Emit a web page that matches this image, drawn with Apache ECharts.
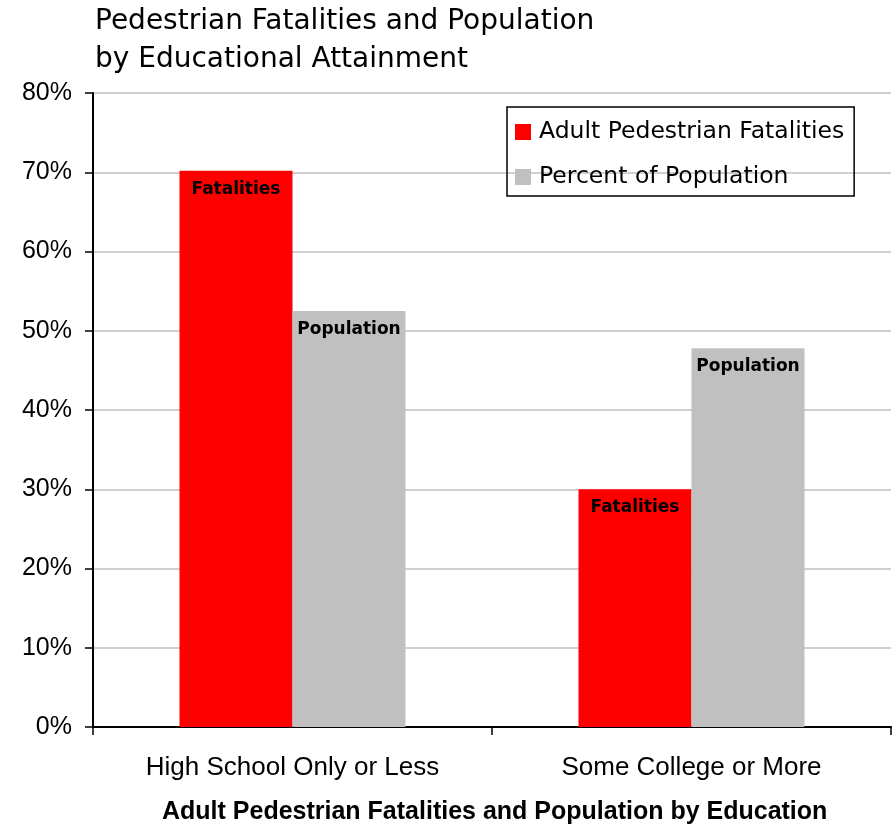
<!DOCTYPE html>
<html><head><meta charset="utf-8">
<script src="https://cdn.jsdelivr.net/npm/echarts@6/dist/echarts.min.js"></script>
<style>html,body{margin:0;padding:0;background:#fff}#c{width:894px;height:829px}</style>
</head><body><div id="c"></div>
<script>
const categories = ['High School Only or Less', 'Some College or More'];
const fatalities = [70.2, 30.0];
const population = [52.5, 47.8];
const seriesNames = ['Adult Pedestrian Fatalities', 'Percent of Population'];
const barLabels = ['Fatalities', 'Population'];
const yTicks = [0, 10, 20, 30, 40, 50, 60, 70, 80];

const chart = echarts.init(document.getElementById('c'));
const titleFont = 'DejaVu Sans';
const axisFont = 'Liberation Sans, Arial';
chart.setOption({
  animation: false,
  backgroundColor: '#fff',
  title: [{
    text: 'Pedestrian Fatalities and Population\nby Educational Attainment',
    left: 90, top: -2,
    textStyle: {fontFamily: titleFont, fontWeight: 'normal', fontSize: 28, lineHeight: 38, color: '#000'}
  }, {
    text: 'Adult Pedestrian Fatalities and Population by Education',
    left: 157, top: 795,
    textStyle: {fontFamily: axisFont, fontWeight: 'bold', fontSize: 25, color: '#000'}
  }],
  legend: {
    orient: 'vertical', left: 507, top: 107,
    padding: [13, 10, 7, 8],
    borderColor: '#000', borderWidth: 1.5,
    itemWidth: 16, itemHeight: 16, itemGap: 21,
    icon: 'rect',
    textStyle: {fontFamily: titleFont, fontSize: 23.5, color: '#000', padding: [0, 0, 0, 3]},
    data: seriesNames
  },
  grid: {left: 93, top: 93, right: 3, bottom: 102, containLabel: false},
  xAxis: {
    type: 'category', data: categories,
    axisLine: {lineStyle: {color: '#000', width: 2}},
    axisTick: {show: true, length: 8, lineStyle: {color: '#000', width: 1.5}},
    axisLabel: {fontFamily: axisFont, fontSize: 26, color: '#000', margin: 28},
    splitLine: {show: false}
  },
  yAxis: {
    type: 'value', min: 0, max: 80, interval: 10,
    axisLine: {show: true, lineStyle: {color: '#000', width: 2}},
    axisTick: {show: true, length: 8, lineStyle: {color: '#000', width: 1.5}},
    axisLabel: {fontFamily: axisFont, fontSize: 25, color: '#000', margin: 21,
      formatter: v => yTicks.includes(v) ? v + '%' : ''},
    splitLine: {lineStyle: {color: '#c0c0c0', width: 1.5}}
  },
  series: [{
    name: seriesNames[0], type: 'bar', data: fatalities,
    barWidth: 113, barGap: '0%',
    itemStyle: {color: '#ff0000'},
    label: {show: true, position: 'insideTop', distance: 10, formatter: barLabels[0],
      fontFamily: 'DejaVu Sans', fontWeight: 'bold', fontSize: 17, color: '#000'}
  }, {
    name: seriesNames[1], type: 'bar', data: population,
    barWidth: 113, barGap: '0%',
    itemStyle: {color: '#c0c0c0'},
    label: {show: true, position: 'insideTop', distance: 10, formatter: barLabels[1],
      fontFamily: 'DejaVu Sans', fontWeight: 'bold', fontSize: 17, color: '#000'}
  }]
});
</script></body></html>
